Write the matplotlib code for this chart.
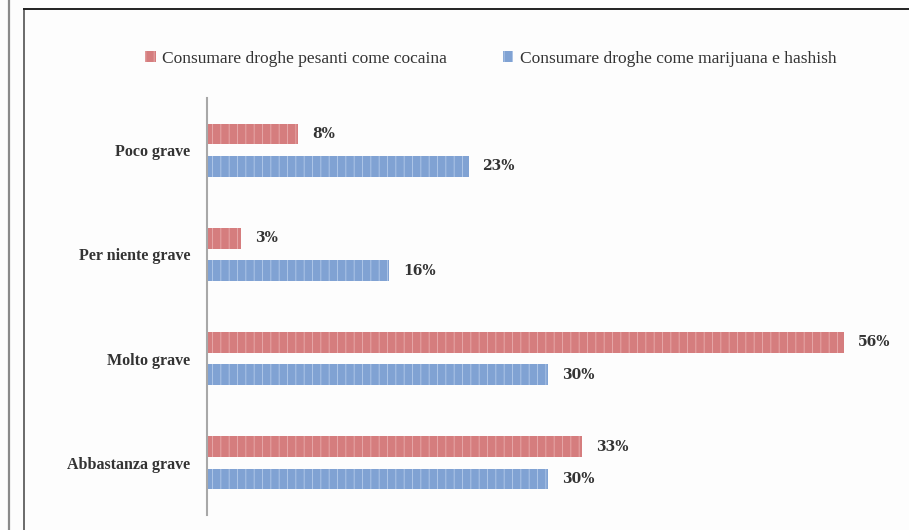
import matplotlib.pyplot as plt
from matplotlib.lines import Line2D
import numpy as np

categorie = ["Poco grave", "Per niente grave", "Molto grave", "Abbastanza grave"]
cocaina = [8, 3, 56, 33]
marijuana = [23, 16, 30, 30]
etichette_cocaina = ["8%", "3%", "56%", "33%"]
etichette_marijuana = ["23%", "16%", "30%", "30%"]
serie = ["Consumare droghe pesanti come cocaina", "Consumare droghe come marijuana e hashish"]

plt.rcParams['font.family'] = ['Liberation Serif', 'DejaVu Serif']
plt.rcParams['hatch.linewidth'] = 0.6

W, H = 909, 530
fig = plt.figure(figsize=(W / 100, H / 100), dpi=100)
fig.patch.set_facecolor('#fdfdfd')

# cornice della pagina
fig.add_artist(Line2D([9 / W, 9 / W], [0, 1], color='#8a8a8a', lw=1.6))
fig.add_artist(Line2D([24 / W, 24 / W], [0, 1 - 9 / H], color='#6a6a6a', lw=1.4))
fig.add_artist(Line2D([24 / W, 1], [1 - 9 / H, 1 - 9 / H], color='#222222', lw=1.4))

ax = fig.add_axes([207 / W, 15 / H, 682.5 / W, 417 / H])
ax.set_facecolor('none')

y = np.arange(len(categorie))
h = 0.2
off = 0.155
b1 = ax.barh(y - off, cocaina, height=h, color='#d57d7e', edgecolor='#e9aeae', lw=0, hatch='||')
b2 = ax.barh(y + off, marijuana, height=h, color='#80a2d3', edgecolor='#b5cbea', lw=0, hatch='||')

for i in range(len(categorie)):
    ax.annotate(etichette_cocaina[i], (cocaina[i], y[i] - off), xytext=(10, 0), textcoords='offset points',
                va='center', ha='left', fontsize=10, fontweight='bold', color='#333333', family='DejaVu Serif')
    ax.annotate(etichette_marijuana[i], (marijuana[i], y[i] + off), xytext=(10, 0), textcoords='offset points',
                va='center', ha='left', fontsize=10, fontweight='bold', color='#333333', family='DejaVu Serif')

ax.set_xlim(0, 60)
ax.set_ylim(len(categorie) - 0.5, -0.5)
ax.set_yticks(y)
ax.set_yticklabels(categorie, fontsize=11.5, fontweight='bold', color='#333333')
ax.tick_params(axis='y', length=0, pad=12)
ax.set_xticks([])
for s in ['top', 'right', 'bottom']:
    ax.spines[s].set_visible(False)
ax.spines['left'].set_color('#a8a8a8')
ax.spines['left'].set_linewidth(1.5)

fig.legend([b1, b2], serie, loc='center', bbox_to_anchor=(491 / W, 1 - 59 / H), ncol=2, frameon=False,
           handlelength=0.6, handleheight=0.6, columnspacing=3.2, handletextpad=0.4,
           prop={'size': 12.5}, labelcolor='#333333')

fig.savefig('out.png', dpi=100)
